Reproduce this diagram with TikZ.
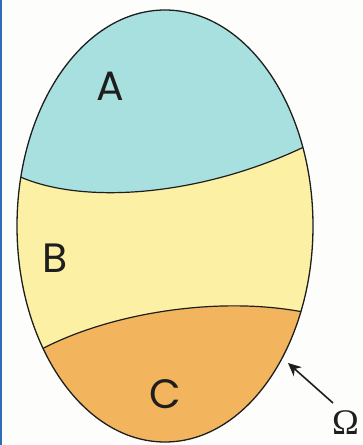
\documentclass[tikz,border=0pt]{standalone}
\usepackage{fontspec}
\setsansfont{Poppins}
\newfontfamily\omegafont{Liberation Serif}
\usetikzlibrary{arrows.meta,shapes.geometric}
\definecolor{bgc}{HTML}{FDFDFB}
\definecolor{regA}{HTML}{A8E0E0}
\definecolor{regB}{HTML}{FBF0A4}
\definecolor{regC}{HTML}{F3B45E}
\definecolor{edgeblue}{HTML}{2E6DB4}
\definecolor{inkc}{HTML}{1E1E1E}
\tikzset{
  outline/.style={draw=inkc, line width=1.3pt},
  divider/.style={draw=inkc, line width=1.2pt},
  setlabel/.style={font=\sffamily\fontsize{41}{41}\selectfont, text=inkc, inner sep=0pt},
  pointer/.style={draw=inkc, line width=1.6pt, -{Stealth[length=13pt,width=12pt,inset=4pt]}}
}
\begin{document}
\begin{tikzpicture}[x=1pt,y=-1pt]
\useasboundingbox (0,0) rectangle (363,445);
\fill[bgc] (0,0) rectangle (363,445);
\fill[edgeblue] (0,0) rectangle (1.6,445);
% regions
\begin{scope}
  \clip (165,226) ellipse [x radius=148, y radius=216];
  \fill[regB] (0,0) rectangle (363,445);
  \fill[regA] (14,174) .. controls (78,206) and (200,197) .. (306,146) -- (340,146) -- (340,0) -- (0,0) -- cycle;
  \fill[regC] (38,351) .. controls (110,312) and (220,296) .. (303,312) -- (340,312) -- (340,445) -- (0,445) -- cycle;
  \draw[divider] (14,174) .. controls (78,206) and (200,197) .. (306,146);
  \draw[divider] (38,351) .. controls (110,312) and (220,296) .. (303,312);
\end{scope}
\node[outline, shape=ellipse, minimum width=296, minimum height=432, inner sep=0pt] (omega) at (165,226) {};
\node[setlabel] (labA) at (110,86) {A};
\node[setlabel] (labB) at (55,258) {B};
\node[setlabel] (labC) at (165,394) {C};
\node[inner sep=0pt, anchor=east, font=\omegafont\fontsize{36}{36}\selectfont, text=inkc] (omg) at (359,423) {Ω};
\coordinate (tip) at (288,363);
\draw[pointer] (333,403) -- (tip);
\end{tikzpicture}
\end{document}
